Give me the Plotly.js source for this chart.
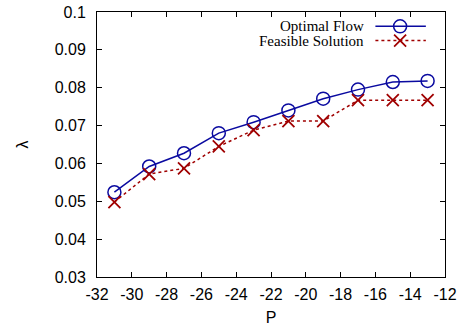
<!DOCTYPE html>
<html>
<head>
<meta charset="utf-8">
<script src="https://cdn.plot.ly/plotly-3.0.1.min.js"></script>
<style>html,body{margin:0;padding:0;background:#fff;}#chart{width:461px;height:326px;}</style>
</head>
<body>
<div id="chart"></div>
<script>
// Data
var P = [-31, -29, -27, -25, -23, -21, -19, -17, -15, -13];
var optimalFlow = [0.0524, 0.0592, 0.0627, 0.0680, 0.0709, 0.0740, 0.0771, 0.0795, 0.0815, 0.0818];
var feasibleSolution = [0.0498, 0.0572, 0.0587, 0.0645, 0.0688, 0.0712, 0.0712, 0.0767, 0.0767, 0.0767];
var seriesNames = ['Optimal Flow', 'Feasible Solution'];
var xTickVals = [-32, -30, -28, -26, -24, -22, -20, -18, -16, -14, -12];
var xTickText = ['-32', '-30', '-28', '-26', '-24', '-22', '-20', '-18', '-16', '-14', '-12'];
var yTickVals = [0.03, 0.04, 0.05, 0.06, 0.07, 0.08, 0.09, 0.1];
var yTickText = ['0.03', '0.04', '0.05', '0.06', '0.07', '0.08', '0.09', '0.1'];

var blue = '#0a0aa0';
var red = '#a00000';

// legend key layout (paper fractions of the plot area)
var keyX = [0.80, 0.871, 0.945];
var keyY = [0.946, 0.892];

var traces = [
  {x: P, y: optimalFlow, type: 'scatter', mode: 'lines+markers', name: seriesNames[0],
   line: {color: blue, width: 1.5},
   marker: {symbol: 'circle-open', size: 13, color: blue, line: {width: 1.5, color: blue}},
   showlegend: false},
  {x: P, y: feasibleSolution, type: 'scatter', mode: 'lines+markers', name: seriesNames[1],
   line: {color: red, width: 1.5, dash: 'dot'},
   marker: {symbol: 'x-thin-open', size: 12, color: red, line: {width: 1.8, color: red}},
   showlegend: false},
  // legend keys on hidden overlay axes
  {x: [keyX[0], keyX[2]], y: [keyY[0], keyY[0]], xaxis: 'x2', yaxis: 'y2', type: 'scatter', mode: 'lines',
   line: {color: blue, width: 1.5}, showlegend: false, hoverinfo: 'skip'},
  {x: [keyX[1]], y: [keyY[0]], xaxis: 'x2', yaxis: 'y2', type: 'scatter', mode: 'markers',
   marker: {symbol: 'circle-open', size: 13, color: blue, line: {width: 1.5, color: blue}}, showlegend: false, hoverinfo: 'skip'},
  {x: [keyX[0], keyX[2]], y: [keyY[1], keyY[1]], xaxis: 'x2', yaxis: 'y2', type: 'scatter', mode: 'lines',
   line: {color: red, width: 1.5, dash: 'dot'}, showlegend: false, hoverinfo: 'skip'},
  {x: [keyX[1]], y: [keyY[1]], xaxis: 'x2', yaxis: 'y2', type: 'scatter', mode: 'markers',
   marker: {symbol: 'x-thin-open', size: 12, color: red, line: {width: 1.8, color: red}}, showlegend: false, hoverinfo: 'skip'}
];

var tickFont = {family: 'Liberation Sans, Arial, sans-serif', size: 16, color: '#000'};
var legendFont = {family: 'Liberation Serif, Times New Roman, serif', size: 15, color: '#000'};

var layout = {
  width: 461, height: 326,
  margin: {l: 97, r: 16, t: 12, b: 49, pad: 0},
  paper_bgcolor: '#fff', plot_bgcolor: '#fff',
  showlegend: false,
  xaxis: {
    range: [-32, -12], tickvals: xTickVals, ticktext: xTickText,
    ticks: 'inside', ticklen: 5, tickcolor: '#000', tickwidth: 1,
    showline: true, linecolor: '#000', linewidth: 1, mirror: 'ticks',
    showgrid: false, zeroline: false, tickfont: tickFont, ticklabelstandoff: 3,
    title: {text: 'P', font: tickFont, standoff: 9}
  },
  yaxis: {
    range: [0.03, 0.1], tickvals: yTickVals, ticktext: yTickText,
    ticks: 'inside', ticklen: 5, tickcolor: '#000', tickwidth: 1,
    showline: true, linecolor: '#000', linewidth: 1, mirror: 'ticks',
    showgrid: false, zeroline: false, tickfont: tickFont, ticklabelstandoff: 7,
    title: {text: 'λ', font: tickFont, standoff: 22}
  },
  xaxis2: {overlaying: 'x', range: [0, 1], visible: false, fixedrange: true},
  yaxis2: {overlaying: 'y', range: [0, 1], visible: false, fixedrange: true},
  annotations: [
    {xref: 'paper', yref: 'paper', x: 0.772, y: keyY[0], xanchor: 'right', yanchor: 'middle',
     text: seriesNames[0], showarrow: false, font: legendFont},
    {xref: 'paper', yref: 'paper', x: 0.772, y: keyY[1], xanchor: 'right', yanchor: 'middle',
     text: seriesNames[1], showarrow: false, font: legendFont}
  ]
};

Plotly.newPlot('chart', traces, layout, {displayModeBar: false, staticPlot: true});
</script>
</body>
</html>
